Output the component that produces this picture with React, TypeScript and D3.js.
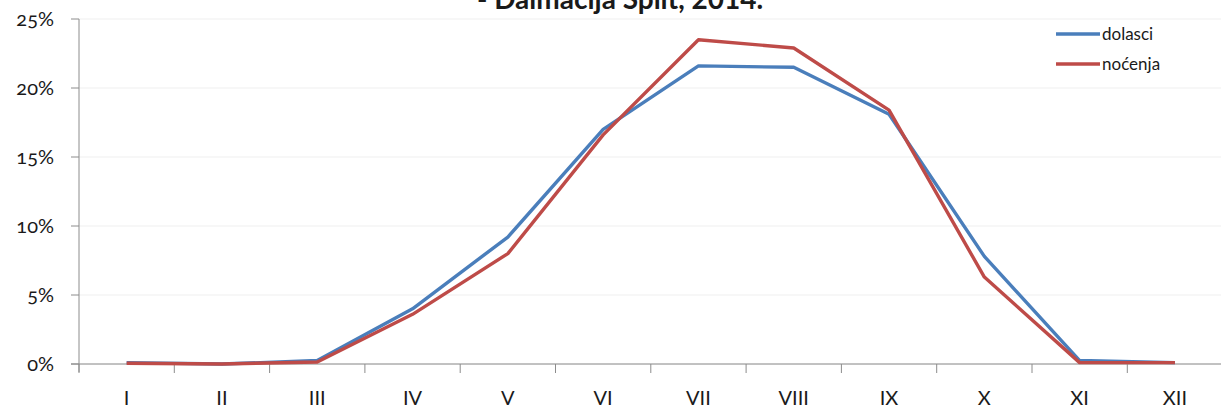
import React from "react";
import * as d3 from "d3";

const months = ["I", "II", "III", "IV", "V", "VI", "VII", "VIII", "IX", "X", "XI", "XII"];
const dolasci = [0.1, 0.0, 0.25, 4.0, 9.2, 17.0, 21.6, 21.5, 18.1, 7.8, 0.25, 0.1];
const nocenja = [0.05, 0.0, 0.15, 3.6, 8.0, 16.6, 23.5, 22.9, 18.4, 6.3, 0.1, 0.1];
const yTicks = [0, 5, 10, 15, 20, 25];
const seriesNames = ["dolasci", "noćenja"];
const titleText = "- Dalmacija Split, 2014.";

const W = 1221;
const H = 408;
const left = 79;
const right = 1222.6;
const top = 19;
const bottom = 364;
const font = "Lato, 'Open Sans', sans-serif";
const colors = ["#4A7EBB", "#BE4B48"];

export default function App() {
  const x = d3.scaleBand<string>().domain(months).range([left, right]).padding(0);
  const y = d3.scaleLinear().domain([0, 25]).range([bottom, top]);
  const line = d3
    .line<number>()
    .x((_, i) => (x(months[i]) as number) + x.bandwidth() / 2)
    .y((d) => y(d));
  const series = [dolasci, nocenja];
  const bounds = months.map((m) => x(m) as number).concat([right]);

  return (
    <svg
      width={W}
      height={H}
      style={{ position: "absolute", left: 0, top: 0, background: "#fff" }}
    >
      <text
        x={620}
        y={9}
        textAnchor="middle"
        fontFamily={font}
        fontWeight="bold"
        fontSize={28}
        fill="#1a1a1a"
      >
        {titleText}
      </text>
      {yTicks.map((t) => (
        <line key={"g" + t} x1={left} x2={W} y1={y(t)} y2={y(t)} stroke="#EFEFEF" strokeWidth={1} />
      ))}
      <line x1={left} x2={left} y1={top} y2={bottom + 8} stroke="#8C8C8C" strokeWidth={1} />
      <line x1={left - 8} x2={W} y1={bottom} y2={bottom} stroke="#8C8C8C" strokeWidth={1} />
      {yTicks.map((t) => (
        <g key={"yt" + t}>
          <line x1={left - 8} x2={left} y1={y(t)} y2={y(t)} stroke="#8C8C8C" />
          <text
            x={54}
            y={y(t)}
            dy="0.35em"
            textAnchor="end"
            fontFamily={font}
            fontSize={20}
            fill="#1a1a1a"
            style={{ fontVariantNumeric: "oldstyle-nums" }}
          >
            {t + "%"}
          </text>
        </g>
      ))}
      {bounds.map((b, i) => (
        <line key={"xt" + i} x1={b} x2={b} y1={bottom} y2={bottom + 9} stroke="#8C8C8C" />
      ))}
      {months.map((m) => (
        <text
          key={"xl" + m}
          x={(x(m) as number) + x.bandwidth() / 2}
          y={398}
          dy="0.35em"
          textAnchor="middle"
          fontFamily={font}
          fontSize={20}
          fill="#1a1a1a"
        >
          {m}
        </text>
      ))}
      {series.map((s, i) => (
        <path
          key={"s" + i}
          d={line(s) || ""}
          fill="none"
          stroke={colors[i]}
          strokeWidth={3.4}
          strokeLinejoin="round"
        />
      ))}
      {seriesNames.map((n, i) => (
        <g key={"lg" + i}>
          <line x1={1056} x2={1100} y1={34 + i * 30} y2={34 + i * 30} stroke={colors[i]} strokeWidth={3.4} />
          <text
            x={1102}
            y={34 + i * 30}
            dy="0.35em"
            fontFamily={font}
            fontSize={17}
            fill="#1a1a1a"
          >
            {n}
          </text>
        </g>
      ))}
    </svg>
  );
}
